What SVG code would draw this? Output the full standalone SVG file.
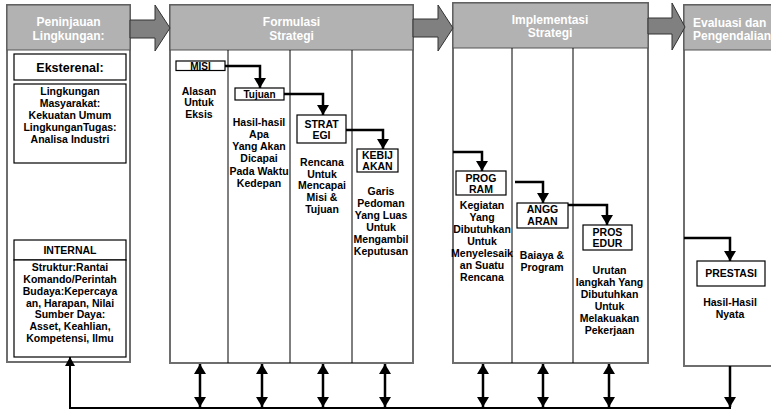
<svg xmlns="http://www.w3.org/2000/svg" width="771" height="411" viewBox="0 0 771 411">
<style>
text{font-family:"Liberation Sans",Arial,Helvetica,sans-serif;font-weight:bold;fill:#000;text-anchor:middle}
.h{fill:#fff;font-size:12px}
.b{font-size:10.5px}
.l{font-size:10px}
.col{fill:#fff;stroke:#6e6e6e;stroke-width:2}
.hdr{fill:#b2b2b2;stroke:#555;stroke-width:1}
.box{fill:#fff;stroke:#000;stroke-width:1.2}
.div{stroke:#000;stroke-width:1;fill:none}
.big{fill:#808080;stroke:#333;stroke-width:1}
.c{fill:none;stroke:#000;stroke-width:2.5}
.cb{fill:none;stroke:#000;stroke-width:2}
</style>
<defs>
<marker id="ah" viewBox="0 0 10 12" refX="10" refY="6" markerWidth="10" markerHeight="12" markerUnits="userSpaceOnUse" orient="auto-start-reverse">
<path d="M0,0 L10,6 L0,12 z" fill="#000"/>
</marker>
<marker id="ahs" viewBox="0 0 9 10" refX="9" refY="5" markerWidth="9" markerHeight="10" markerUnits="userSpaceOnUse" orient="auto-start-reverse">
<path d="M0,0 L9,5 L0,10 z" fill="#000"/>
</marker>
</defs>

<g id="lingkungan">
<rect class="col" x="7" y="5" width="123" height="357"/>
<rect class="hdr" x="7" y="5" width="123" height="45"/>
<text class="h" x="68.5" y="26">Peninjauan</text>
<text class="h" x="68.5" y="40">Lingkungan:</text>
</g>
<g id="eksternal">
<rect class="box" x="14" y="54" width="112" height="26"/>
<text x="70" y="72" style="font-size:12.5px">Eksterenal:</text>
</g>
<g id="eksternal-isi">
<rect class="box" x="14" y="84" width="112" height="79"/>
<text class="b" x="70" y="95">Lingkungan</text>
<text class="b" x="70" y="107">Masyarakat:</text>
<text class="b" x="70" y="119">Kekuatan Umum</text>
<text class="b" x="70" y="131">LingkunganTugas:</text>
<text class="b" x="70" y="143">Analisa Industri</text>
</g>
<g id="internal">
<rect class="box" x="14" y="240" width="112" height="20"/>
<text class="b" x="70" y="253.5">INTERNAL</text>
</g>
<g id="internal-isi">
<rect class="box" x="14" y="260" width="112" height="97"/>
<text class="b" x="70" y="271">Struktur:Rantai</text>
<text class="b" x="70" y="283">Komando/Perintah</text>
<text class="b" x="70" y="294.5">Budaya:Kepercaya</text>
<text class="b" x="70" y="306.5">an, Harapan, Nilai</text>
<text class="b" x="70" y="318">Sumber Daya:</text>
<text class="b" x="70" y="330">Asset, Keahlian,</text>
<text class="b" x="70" y="342">Kompetensi, Ilmu</text>
</g>

<g id="formulasi">
<rect class="col" x="170" y="5" width="243" height="358"/>
<rect class="hdr" x="170" y="5" width="243" height="45"/>
<text class="h" x="291.5" y="26">Formulasi</text>
<text class="h" x="291.5" y="40">Strategi</text>
<line class="div" x1="228" y1="50" x2="228" y2="363"/>
<line class="div" x1="290" y1="50" x2="290" y2="363"/>
<line class="div" x1="352" y1="50" x2="352" y2="363"/>
</g>
<g id="implementasi">
<rect class="col" x="453" y="3" width="195" height="360"/>
<rect class="hdr" x="453" y="3" width="195" height="45"/>
<text class="h" x="550" y="24">Implementasi</text>
<text class="h" x="550" y="37">Strategi</text>
<line class="div" x1="512" y1="48" x2="512" y2="363"/>
<line class="div" x1="573" y1="48" x2="573" y2="363"/>
</g>
<g id="evaluasi">
<rect class="col" x="684" y="5" width="110" height="361"/>
<rect class="hdr" x="684" y="5" width="110" height="45"/>
<text class="h" x="693" y="27" style="text-anchor:start">Evaluasi dan</text>
<text class="h" x="693" y="40" style="text-anchor:start">Pengendalian</text>
</g>

<g id="misi">
<rect class="box" x="176" y="61" width="49" height="9.5"/>
<text class="l" x="200.5" y="69.5">MISI</text>
<text class="b" x="199" y="94.5">Alasan</text>
<text class="b" x="199" y="106">Untuk</text>
<text class="b" x="199" y="117.5">Eksis</text>
</g>
<g id="tujuan">
<rect class="box" x="235" y="88" width="49" height="12"/>
<text class="l" x="259.5" y="97.5">Tujuan</text>
<text class="b" x="259" y="126">Hasil-hasil</text>
<text class="b" x="259" y="138">Apa</text>
<text class="b" x="259" y="150">Yang Akan</text>
<text class="b" x="259" y="162">Dicapai</text>
<text class="b" x="259" y="174.5">Pada Waktu</text>
<text class="b" x="259" y="186.5">Kedepan</text>
</g>
<g id="strategi">
<rect class="box" x="297" y="115" width="49" height="28"/>
<text class="b" x="321.5" y="127.5">STRAT</text>
<text class="b" x="321.5" y="139">EGI</text>
<text class="b" x="322" y="166">Rencana</text>
<text class="b" x="322" y="177.5">Untuk</text>
<text class="b" x="322" y="189">Mencapai</text>
<text class="b" x="322" y="201">Misi &amp;</text>
<text class="b" x="322" y="213">Tujuan</text>
</g>
<g id="kebijakan">
<rect class="box" x="357" y="149" width="41" height="23"/>
<text class="b" x="377.5" y="159">KEBIJ</text>
<text class="b" x="377.5" y="170">AKAN</text>
<text class="b" x="381" y="195">Garis</text>
<text class="b" x="381" y="207">Pedoman</text>
<text class="b" x="381" y="219">Yang Luas</text>
<text class="b" x="381" y="231">Untuk</text>
<text class="b" x="381" y="243">Mengambil</text>
<text class="b" x="381" y="255">Keputusan</text>
</g>
<g id="program">
<rect class="box" x="456" y="171" width="50" height="24"/>
<text class="b" x="481" y="181.5">PROG</text>
<text class="b" x="481" y="193">RAM</text>
<text class="b" x="482" y="209">Kegiatan</text>
<text class="b" x="482" y="221">Yang</text>
<text class="b" x="482" y="233">Dibutuhkan</text>
<text class="b" x="482" y="245">Untuk</text>
<text class="b" x="482" y="257">Menyelesaik</text>
<text class="b" x="482" y="269">an Suatu</text>
<text class="b" x="482" y="281">Rencana</text>
</g>
<g id="anggaran">
<rect class="box" x="517" y="203" width="51" height="25"/>
<text class="b" x="542.5" y="213">ANGG</text>
<text class="b" x="542.5" y="225">ARAN</text>
<text class="b" x="542" y="259">Baiaya &amp;</text>
<text class="b" x="542" y="271">Program</text>
</g>
<g id="prosedur">
<rect class="box" x="583" y="225" width="49" height="25"/>
<text class="b" x="607.5" y="235.5">PROS</text>
<text class="b" x="607.5" y="247">EDUR</text>
<text class="b" x="609.5" y="274">Urutan</text>
<text class="b" x="609.5" y="286">langkah Yang</text>
<text class="b" x="609.5" y="298">Dibutuhkan</text>
<text class="b" x="609.5" y="310">Untuk</text>
<text class="b" x="609.5" y="322">Melakuakan</text>
<text class="b" x="609.5" y="334">Pekerjaan</text>
</g>
<g id="prestasi">
<rect class="box" x="697" y="261" width="68" height="25"/>
<text class="b" x="731" y="277">PRESTASI</text>
<text class="b" x="730" y="306">Hasil-Hasil</text>
<text class="b" x="730" y="318">Nyata</text>
</g>

<g id="connectors">
<polygon class="big" points="130,20 155,20 155,5 170,28 155,51 155,38 130,38"/>
<polygon class="big" points="413,19 438,19 438,5 453,28 438,51 438,37 413,37"/>
<polygon class="big" points="648,18 672,18 672,3 685,27 672,50 672,34 648,34"/>
<path class="c" d="M225,66 H260 V88" marker-end="url(#ah)"/>
<path class="c" d="M284,94 H323 V115" marker-end="url(#ah)"/>
<path class="c" d="M346,130 H383 V149" marker-end="url(#ah)"/>
<path class="c" d="M453,152 H482 V171" marker-end="url(#ah)"/>
<path class="c" d="M515,182 H543 V203" marker-end="url(#ah)"/>
<path class="c" d="M568,205 H607 V225" marker-end="url(#ah)"/>
<path class="c" d="M684,238 H730 V261" marker-end="url(#ah)"/>
<path class="cb" d="M731,408 H70 V357" marker-end="url(#ahs)"/>
<path class="c" d="M730,366 V407" marker-end="url(#ah)"/>
<line class="c" x1="200" y1="364" x2="200" y2="407" marker-start="url(#ah)" marker-end="url(#ah)"/>
<line class="c" x1="262" y1="364" x2="262" y2="407" marker-start="url(#ah)" marker-end="url(#ah)"/>
<line class="c" x1="323" y1="364" x2="323" y2="407" marker-start="url(#ah)" marker-end="url(#ah)"/>
<line class="c" x1="385" y1="364" x2="385" y2="407" marker-start="url(#ah)" marker-end="url(#ah)"/>
<line class="c" x1="483" y1="364" x2="483" y2="407" marker-start="url(#ah)" marker-end="url(#ah)"/>
<line class="c" x1="543" y1="364" x2="543" y2="407" marker-start="url(#ah)" marker-end="url(#ah)"/>
<line class="c" x1="609" y1="364" x2="609" y2="407" marker-start="url(#ah)" marker-end="url(#ah)"/>
</g>
</svg>
